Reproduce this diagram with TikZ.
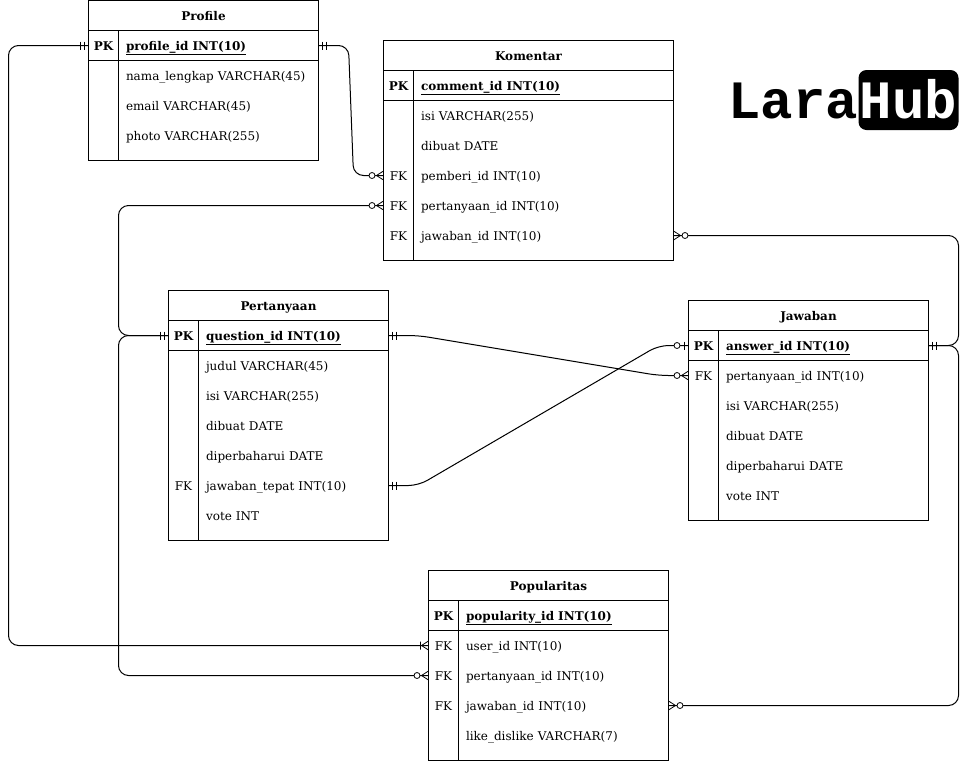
\documentclass[tikz,border=0pt]{standalone}
\usepackage{fontspec}
\setmainfont{DejaVu Serif}
\setmonofont{Liberation Mono}

\newcommand{\cellfont}{\fontsize{12}{14}\selectfont}
\newcommand{\logofont}{\fontsize{54}{60}\selectfont\ttfamily\bfseries}

\tikzset{
  cellbox/.style={draw, line width=1pt, inner sep=0pt, outer sep=0pt},
  tabletitle/.style={cellbox, minimum height=30pt, text height=10.5pt, text depth=1.5pt, font=\cellfont\bfseries},
  keycell/.style={inner sep=0pt, outer sep=0pt, minimum width=30pt, minimum height=30pt, text height=10.5pt, text depth=1.5pt},
  fieldcell/.style={inner ysep=0pt, inner xsep=7.5pt, outer sep=0pt, minimum height=30pt, text width=#1, align=left, anchor=west, text height=10.5pt, text depth=1.5pt},
  pkkey/.style={keycell, draw, line width=1pt, font=\cellfont\bfseries},
  pkfield/.style={fieldcell=#1, draw, line width=1pt, font=\cellfont\bfseries},
  logotext/.style={inner sep=0pt, minimum height=60pt, text height=40pt, text depth=4pt, font=\logofont},
  relation/.style={line width=1pt, rounded corners=10pt},
  mandone/.pic={\draw[line width=0.8pt] (4,-4) -- (4,4) (8,-4) -- (8,4);},
  zeromany/.pic={\draw[line width=0.8pt] (0,-4.5) -- (7,0) -- (0,4.5);
    \draw[line width=0.8pt, fill=white] (11.5,0) circle (3);},
  zeroone/.pic={\draw[line width=0.8pt] (4,-4) -- (4,4);
    \draw[line width=0.8pt, fill=white] (11.5,0) circle (3);},
  onemany/.pic={\draw[line width=0.8pt] (0,-4.5) -- (7,0) -- (0,4.5) (8,-4) -- (8,4);},
}

\begin{document}
\begin{tikzpicture}[x=1pt, y=-1pt, font=\cellfont]
\useasboundingbox (0,0) rectangle (969,761);

% Profile
\node[tabletitle, minimum width=230pt] (profile) at (203.5,15.5) {Profile};
\node[pkkey] (profile_pk) at (103.5,45.5) {PK};
\node[pkfield=185pt] (profile_id) at (118.5,45.5) {\underline{profile\_id INT(10)}};
\node[cellbox, minimum width=30pt, minimum height=100pt] (profile_keys) at (103.5,110.5) {};
\node[cellbox, minimum width=200pt, minimum height=100pt] (profile_fields) at (218.5,110.5) {};
\node[fieldcell=185pt] (profile_nama) at (118.5,75.5) {nama\_lengkap VARCHAR(45)};
\node[fieldcell=185pt] (profile_email) at (118.5,105.5) {email VARCHAR(45)};
\node[fieldcell=185pt] (profile_photo) at (118.5,135.5) {photo VARCHAR(255)};

% Komentar
\node[tabletitle, minimum width=290pt] (komentar) at (528.5,55.5) {Komentar};
\node[pkkey] (komentar_pk) at (398.5,85.5) {PK};
\node[pkfield=245pt] (komentar_id) at (413.5,85.5) {\underline{comment\_id INT(10)}};
\node[cellbox, minimum width=30pt, minimum height=160pt] (komentar_keys) at (398.5,180.5) {};
\node[cellbox, minimum width=260pt, minimum height=160pt] (komentar_fields) at (543.5,180.5) {};
\node[fieldcell=245pt] (komentar_isi) at (413.5,115.5) {isi VARCHAR(255)};
\node[fieldcell=245pt] (komentar_dibuat) at (413.5,145.5) {dibuat DATE};
\node[keycell] (komentar_fk1) at (398.5,175.5) {FK};
\node[fieldcell=245pt] (komentar_pemberi) at (413.5,175.5) {pemberi\_id INT(10)};
\node[keycell] (komentar_fk2) at (398.5,205.5) {FK};
\node[fieldcell=245pt] (komentar_pertanyaan) at (413.5,205.5) {pertanyaan\_id INT(10)};
\node[keycell] (komentar_fk3) at (398.5,235.5) {FK};
\node[fieldcell=245pt] (komentar_jawaban) at (413.5,235.5) {jawaban\_id INT(10)};

% Pertanyaan
\node[tabletitle, minimum width=220pt] (pertanyaan) at (278.5,305.5) {Pertanyaan};
\node[pkkey] (pertanyaan_pk) at (183.5,335.5) {PK};
\node[pkfield=175pt] (question_id) at (198.5,335.5) {\underline{question\_id INT(10)}};
\node[cellbox, minimum width=30pt, minimum height=190pt] (pertanyaan_keys) at (183.5,445.5) {};
\node[cellbox, minimum width=190pt, minimum height=190pt] (pertanyaan_fields) at (293.5,445.5) {};
\node[fieldcell=175pt] (pertanyaan_judul) at (198.5,365.5) {judul VARCHAR(45)};
\node[fieldcell=175pt] (pertanyaan_isi) at (198.5,395.5) {isi VARCHAR(255)};
\node[fieldcell=175pt] (pertanyaan_dibuat) at (198.5,425.5) {dibuat DATE};
\node[fieldcell=175pt] (pertanyaan_diperbaharui) at (198.5,455.5) {diperbaharui DATE};
\node[keycell] (pertanyaan_fk) at (183.5,485.5) {FK};
\node[fieldcell=175pt] (pertanyaan_tepat) at (198.5,485.5) {jawaban\_tepat INT(10)};
\node[fieldcell=175pt] (pertanyaan_vote) at (198.5,515.5) {vote INT};

% Jawaban
\node[tabletitle, minimum width=240pt] (jawaban) at (808.5,315.5) {Jawaban};
\node[pkkey] (jawaban_pk) at (703.5,345.5) {PK};
\node[pkfield=195pt] (answer_id) at (718.5,345.5) {\underline{answer\_id INT(10)}};
\node[cellbox, minimum width=30pt, minimum height=160pt] (jawaban_keys) at (703.5,440.5) {};
\node[cellbox, minimum width=210pt, minimum height=160pt] (jawaban_fields) at (823.5,440.5) {};
\node[keycell] (jawaban_fk) at (703.5,375.5) {FK};
\node[fieldcell=195pt] (jawaban_pertanyaan) at (718.5,375.5) {pertanyaan\_id INT(10)};
\node[fieldcell=195pt] (jawaban_isi) at (718.5,405.5) {isi VARCHAR(255)};
\node[fieldcell=195pt] (jawaban_dibuat) at (718.5,435.5) {dibuat DATE};
\node[fieldcell=195pt] (jawaban_diperbaharui) at (718.5,465.5) {diperbaharui DATE};
\node[fieldcell=195pt] (jawaban_vote) at (718.5,495.5) {vote INT};

% Popularitas
\node[tabletitle, minimum width=240pt] (popularitas) at (548.5,585.5) {Popularitas};
\node[pkkey] (popularitas_pk) at (443.5,615.5) {PK};
\node[pkfield=195pt] (popularity_id) at (458.5,615.5) {\underline{popularity\_id INT(10)}};
\node[cellbox, minimum width=30pt, minimum height=130pt] (popularitas_keys) at (443.5,695.5) {};
\node[cellbox, minimum width=210pt, minimum height=130pt] (popularitas_fields) at (563.5,695.5) {};
\node[keycell] (popularitas_fk1) at (443.5,645.5) {FK};
\node[fieldcell=195pt] (popularitas_user) at (458.5,645.5) {user\_id INT(10)};
\node[keycell] (popularitas_fk2) at (443.5,675.5) {FK};
\node[fieldcell=195pt] (popularitas_pertanyaan) at (458.5,675.5) {pertanyaan\_id INT(10)};
\node[keycell] (popularitas_fk3) at (443.5,705.5) {FK};
\node[fieldcell=195pt] (popularitas_jawaban) at (458.5,705.5) {jawaban\_id INT(10)};
\node[fieldcell=195pt] (popularitas_like) at (458.5,735.5) {like\_dislike VARCHAR(7)};

% Logo
\node[logotext, fill=black, text=white, rounded corners=8pt, minimum width=100pt] (hub) at (908.5,100) {Hub};
\node[logotext, anchor=east] (lara) at (hub.west) {Lara};

% Relations
\draw[relation] (profile_pk.west) -- ++(-80,0) |- (popularitas_fk1.west);
\draw[relation] (profile_id.east) -- ++(30,0) -- ++(5,130) -- (komentar_fk1.west);
\draw[relation] (pertanyaan_pk.west) -- ++(-50,0) |- (komentar_fk2.west);
\draw[relation] (pertanyaan_pk.west) -- ++(-50,0) |- (popularitas_fk2.west);
\draw[relation] (question_id.east) -- ++(30,0) -- ++(240,40) -- (jawaban_fk.west);
\draw[relation] (pertanyaan_tepat.east) -- ++(30,0) -- ++(240,-140) -- (jawaban_pk.west);
\draw[relation] (answer_id.east) -- ++(30,0) |- (komentar_jawaban.east);
\draw[relation] (answer_id.east) -- ++(30,0) |- (popularitas_jawaban.east);

% Line ends
\pic[xscale=-1] at (profile_pk.west) {mandone};
\pic at (profile_id.east) {mandone};
\pic[xscale=-1] at (pertanyaan_pk.west) {mandone};
\pic at (question_id.east) {mandone};
\pic at (pertanyaan_tepat.east) {mandone};
\pic at (answer_id.east) {mandone};
\pic[xscale=-1] at (komentar_fk1.west) {zeromany};
\pic[xscale=-1] at (komentar_fk2.west) {zeromany};
\pic at (komentar_jawaban.east) {zeromany};
\pic[xscale=-1] at (jawaban_pk.west) {zeroone};
\pic[xscale=-1] at (jawaban_fk.west) {zeromany};
\pic[xscale=-1] at (popularitas_fk1.west) {onemany};
\pic[xscale=-1] at (popularitas_fk2.west) {zeromany};
\pic at (popularitas_jawaban.east) {zeromany};

\end{tikzpicture}
\end{document}
